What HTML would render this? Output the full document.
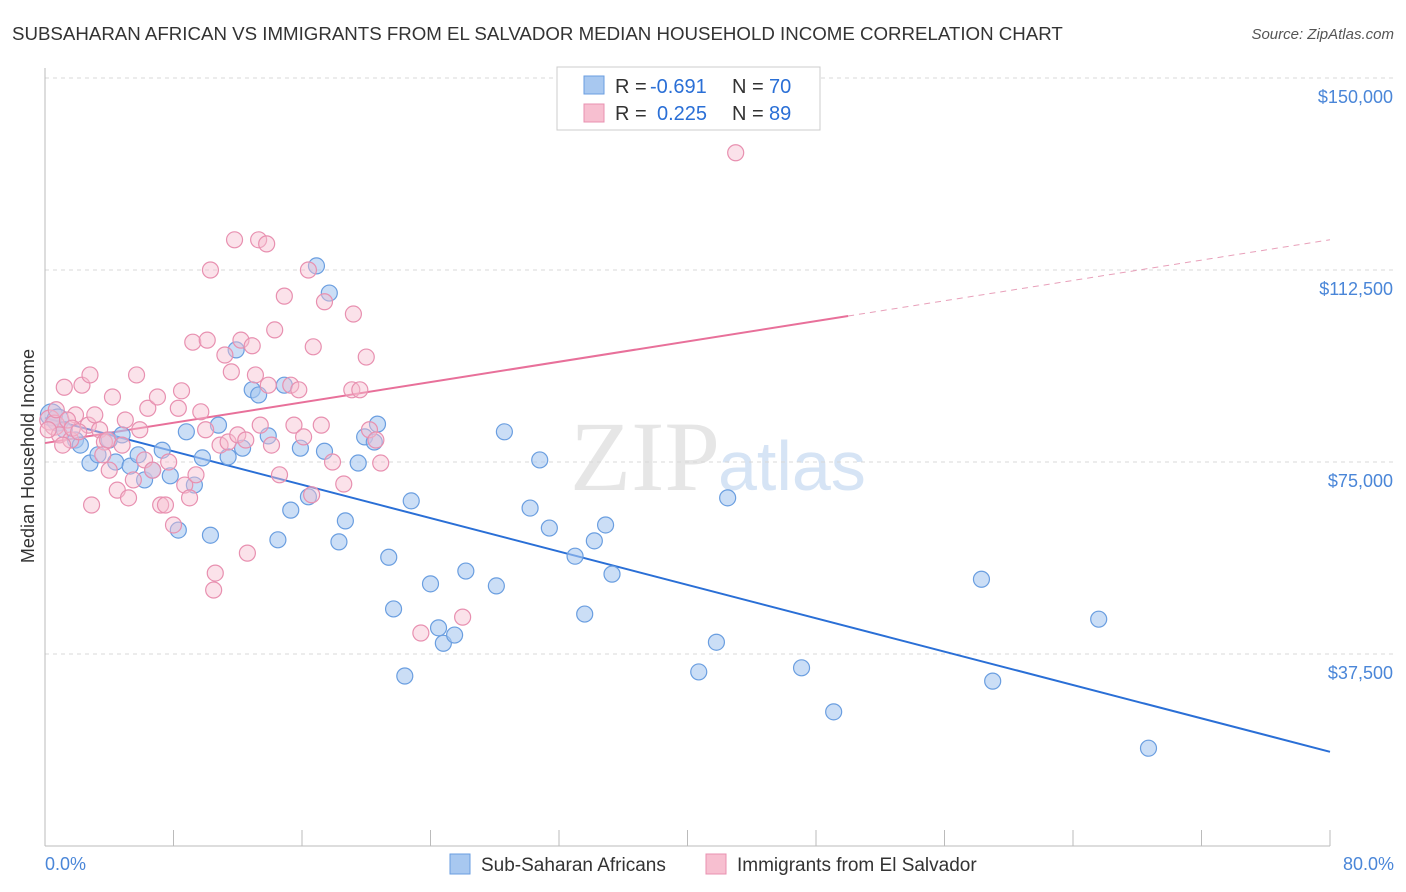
<!DOCTYPE html>
<html><head><meta charset="utf-8">
<style>
body{margin:0;background:#fff;font-family:"Liberation Sans",sans-serif;}
svg{display:block}
</style></head>
<body>
<svg id="chart" width="1406" height="892">
<text x="12" y="40" font-size="18.7" fill="#333">SUBSAHARAN AFRICAN VS IMMIGRANTS FROM EL SALVADOR MEDIAN HOUSEHOLD INCOME CORRELATION CHART</text>
<text x="1394" y="39" font-size="15" fill="#555" font-style="italic" text-anchor="end">Source: ZipAtlas.com</text>
<text x="720" y="490" font-size="100" fill="#e6e6e6" text-anchor="end" font-family="Liberation Serif">ZIP</text>
<text x="718" y="490" font-size="70" fill="#d6e4f5">atlas</text>
<g id="grid"></g>
<g id="axes"></g>
<g id="trend"></g>
<g id="pts"></g>
<text transform="translate(34,456) rotate(-90)" font-size="18" fill="#333" text-anchor="middle">Median Household Income</text>
<text x="45" y="870" font-size="18" fill="#4a86d8">0.0%</text>
<text x="1394" y="870" font-size="18" fill="#4a86d8" text-anchor="end">80.0%</text>
<g>
<rect x="557" y="67" width="263" height="63" fill="#fff" stroke="#ccc"/>
<rect x="584" y="76" width="20" height="18" fill="#a8c8f0" stroke="#6a9ee0"/>
<rect x="584" y="104" width="20" height="18" fill="#f7bfd0" stroke="#e890b0"/>
<text x="615" y="93" font-size="20" fill="#333">R = <tspan x="650" fill="#2a6fd6">-0.691</tspan><tspan x="732">N = </tspan><tspan x="769" fill="#2a6fd6">70</tspan></text>
<text x="615" y="120" font-size="20" fill="#333">R = <tspan x="657" fill="#2a6fd6">0.225</tspan><tspan x="732">N = </tspan><tspan x="769" fill="#2a6fd6">89</tspan></text>
</g>
<g>
<rect x="450" y="854" width="20" height="20" fill="#a8c8f0" stroke="#6a9ee0"/>
<text x="481" y="871" font-size="19" fill="#333">Sub-Saharan Africans</text>
<rect x="706" y="854" width="20" height="20" fill="#f7bfd0" stroke="#e890b0"/>
<text x="737" y="871" font-size="19" fill="#333">Immigrants from El Salvador</text>
</g>
</svg>
<script>
const yTicks=[37.5,75,112.5,150];
const yTickLabels=["$37,500","$75,000","$112,500","$150,000"];
const xTicks=[0,8,16,24,32,40,48,56,64,72,80];
const blueX=[0.4,0.8,1.2,1.9,2.2,2.8,3.3,4.0,4.4,4.8,5.3,5.8,6.2,6.7,7.3,7.8,8.3,8.8,9.3,9.8,10.3,10.8,11.4,11.9,12.3,12.9,13.3,13.9,14.5,14.9,15.3,15.9,16.4,16.9,17.4,17.7,18.3,18.7,19.5,19.9,20.5,20.7,21.4,21.7,22.4,22.8,24.0,24.5,24.8,25.5,26.2,28.1,28.6,30.2,30.8,31.4,33.0,33.6,34.2,34.9,35.3,40.7,41.8,42.5,47.1,49.1,58.3,59.0,65.6,68.7];
const blueY=[84.2,83.2,81.3,79.3,78.3,74.8,76.4,79.3,75.0,80.3,74.2,76.4,71.5,73.4,77.3,72.3,61.7,80.9,70.5,75.8,60.7,82.2,76.0,96.9,77.7,89.1,88.1,80.1,59.8,90.0,65.6,77.7,68.2,113.3,77.1,108.0,59.4,63.5,74.8,79.9,78.9,82.4,56.4,46.3,33.2,67.4,51.2,42.6,39.6,41.2,53.7,50.8,80.9,66.0,75.4,62.1,56.6,45.3,59.6,62.7,53.1,34.0,39.8,68.0,34.8,26.2,52.1,32.2,44.3,19.1];
const pinkX=[0.3,0.6,0.9,1.2,1.6,1.9,2.3,2.7,2.8,2.9,3.4,3.7,3.9,4.2,4.5,4.8,5.0,5.2,5.5,5.7,5.9,6.2,6.4,6.7,7.0,7.2,7.5,7.7,8.0,8.3,8.5,8.7,9.0,9.2,9.4,9.7,10.0,10.1,10.3,10.5,10.6,10.9,11.2,11.4,11.6,11.8,12.0,12.2,12.5,12.6,12.9,13.1,13.3,13.4,13.8,13.9,14.1,14.3,14.6,14.9,15.3,15.5,15.8,16.1,16.4,16.6,16.7,17.2,17.4,17.9,18.6,19.2,19.1,19.6,20.0,20.2,20.6,20.9,23.4,26.0,43.0,0.2,0.7,1.1,1.4,1.7,2.1,3.1,3.6,4.0];
const pinkY=[83.2,82.2,80.3,89.6,79.3,84.2,90.0,82.2,92.0,66.6,81.3,78.9,79.3,87.7,69.5,78.3,83.2,68.0,71.5,92.0,81.3,75.4,85.5,73.4,87.7,66.6,66.6,75.0,62.7,85.5,88.9,70.5,68.0,98.4,72.5,84.8,81.3,98.8,112.5,50.0,53.3,78.3,95.9,78.9,92.6,118.4,80.3,98.8,79.3,57.2,97.7,92.0,118.4,82.2,117.6,90.0,78.3,100.8,72.5,107.4,90.0,82.2,89.1,79.9,112.5,68.6,97.5,82.2,106.3,75.0,70.7,103.9,89.1,89.1,95.5,81.3,79.3,74.8,41.6,44.7,135.4,81.3,85.2,78.3,83.2,81.6,80.9,84.2,76.4,73.4];
const blueTrend=[83.6,18.4];
const pinkTrend=[78.7,118.4];
const pinkSolidEnd=50;

const NS="http://www.w3.org/2000/svg";
const xs=p=>45+p*16.0625;
const ys=k=>846-k*5.12;
function mk(tag,attrs,parent){const e=document.createElementNS(NS,tag);for(const k in attrs)e.setAttribute(k,attrs[k]);parent.appendChild(e);return e;}
const grid=document.getElementById('grid'),axes=document.getElementById('axes'),trend=document.getElementById('trend'),pts=document.getElementById('pts');
yTicks.forEach((t,i)=>{
  const l=mk('line',{x1:45,x2:1394,y1:ys(t),y2:ys(t),stroke:'#d8d8d8','stroke-dasharray':'4,4'},grid);
  
  
  const tx=mk('text',{x:1393,y:ys(t)+25,'font-size':18,fill:'#4a86d8','text-anchor':'end'},grid);
  tx.textContent=yTickLabels[i];
  
  
});
const topLine=mk('line',{x1:45,x2:1394,y1:78,y2:78,stroke:'#d8d8d8','stroke-dasharray':'4,4'},grid);


const ya=mk('line',{x1:45,x2:45,y1:68,y2:846,stroke:'#bbb'},axes);


const xa=mk('line',{x1:45,x2:1330,y1:846,y2:846,stroke:'#bbb'},axes);


xTicks.forEach(t=>{
  const l=mk('line',{x1:xs(t),x2:xs(t),y1:830,y2:846,stroke:'#bbb'},axes);
  
  
});
function tv(tr,p){return tr[0]+(tr[1]-tr[0])*p/80;}
const bl=mk('line',{x1:xs(0),y1:ys(tv(blueTrend,0)),x2:xs(80),y2:ys(tv(blueTrend,80)),stroke:'#2a6fd6','stroke-width':2},trend);


const pl=mk('line',{x1:xs(0),y1:ys(tv(pinkTrend,0)),x2:xs(pinkSolidEnd),y2:ys(tv(pinkTrend,pinkSolidEnd)),stroke:'#e8709a','stroke-width':2},trend);


const pd=mk('line',{x1:xs(pinkSolidEnd),y1:ys(tv(pinkTrend,pinkSolidEnd)),x2:xs(80),y2:ys(tv(pinkTrend,80)),stroke:'#e8a0ba','stroke-width':1,'stroke-dasharray':'6,5'},trend);


blueX.forEach((x,i)=>{
  const c=mk('circle',{cx:xs(x),cy:ys(blueY[i]),r:i<2?11:8,fill:'#a8c8f0','fill-opacity':0.6,stroke:'#6a9ee0','stroke-width':1.2},pts);
  
  
});
pinkX.forEach((x,i)=>{
  const c=mk('circle',{cx:xs(x),cy:ys(pinkY[i]),r:i<2?10:8,fill:'#f7bfd0','fill-opacity':0.45,stroke:'#e890b0','stroke-width':1.2},pts);
  
  
});
</script>
</body></html>
